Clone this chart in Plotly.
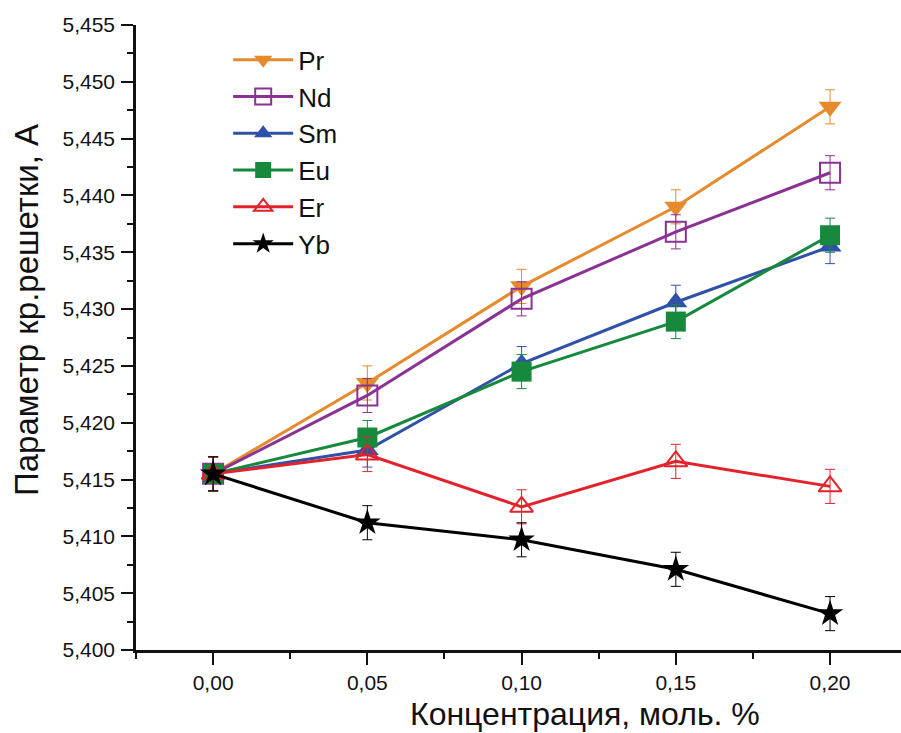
import plotly.graph_objects as go

x_vals = [0.00, 0.05, 0.10, 0.15, 0.20]
series_names = ["Pr", "Nd", "Sm", "Eu", "Er", "Yb"]
pr = [5.4155, 5.4235, 5.4320, 5.4390, 5.4478]
nd = [5.4155, 5.4224, 5.4309, 5.4368, 5.4420]
sm = [5.4155, 5.4176, 5.4252, 5.4306, 5.4355]
eu = [5.4155, 5.4187, 5.4245, 5.4289, 5.4365]
er = [5.4155, 5.4172, 5.4126, 5.4166, 5.4144]
yb = [5.4155, 5.4112, 5.4097, 5.4071, 5.4032]
err = [0.0015, 0.0015, 0.0015, 0.0015, 0.0015]

x_ticks = [0.00, 0.05, 0.10, 0.15, 0.20]
x_ticklabels = ["0,00", "0,05", "0,10", "0,15", "0,20"]
y_ticks = [5.400, 5.405, 5.410, 5.415, 5.420, 5.425, 5.430, 5.435, 5.440, 5.445, 5.450, 5.455]
y_ticklabels = ["5,400", "5,405", "5,410", "5,415", "5,420", "5,425", "5,430", "5,435", "5,440", "5,445", "5,450", "5,455"]
x_title = "Концентрация, моль. %"
y_title = "Параметр кр.решетки, А"

styles = [
    dict(color="#E68A2E", symbol="triangle-down", fill=True),
    dict(color="#8A3194", symbol="square-open", fill=False),
    dict(color="#3051A8", symbol="triangle-up", fill=True),
    dict(color="#17893D", symbol="square", fill=True),
    dict(color="#E4222B", symbol="triangle-up-open", fill=False),
    dict(color="#000000", symbol="star", fill=True),
]
data = [pr, nd, sm, eu, er, yb]

fig = go.Figure()
for name, ys, st in zip(series_names, data, styles):
    fig.add_trace(go.Scatter(
        x=x_vals, y=ys, name=name, mode="lines+markers",
        line=dict(color=st["color"], width=3),
        marker=dict(symbol=st["symbol"], size=20, color=st["color"],
                    line=dict(color=st["color"], width=2 if not st["fill"] else 0)),
        error_y=dict(type="data", array=err, visible=True, color=st["color"],
                     thickness=1, width=5),
    ))

fig.update_layout(
    width=901, height=733,
    margin=dict(l=136, r=0, t=25, b=83),
    paper_bgcolor="white", plot_bgcolor="white",
    font=dict(family="Liberation Sans, Arial, sans-serif", color="#111111"),
    showlegend=True,
    legend=dict(x=0.1205, y=0.982, xanchor="left", yanchor="top",
                font=dict(size=26, color="#111111"), itemwidth=60,
                bgcolor="rgba(0,0,0,0)", tracegroupgap=0),
    xaxis=dict(range=[-0.025, 0.223], tickvals=x_ticks, ticktext=x_ticklabels,
               ticks="outside", ticklen=12, tickwidth=2, tickcolor="#111111",
               minor=dict(dtick=0.025, tick0=0, ticks="outside", ticklen=6, tickwidth=2, tickcolor="#111111"),
               showline=True, linecolor="#111111", linewidth=2.5, showgrid=False, zeroline=False,
               tickfont=dict(size=21), automargin=False, ticklabelstandoff=0),
    yaxis=dict(range=[5.400, 5.455], tickvals=y_ticks, ticktext=y_ticklabels,
               ticks="outside", ticklen=12, tickwidth=2, tickcolor="#111111",
               minor=dict(dtick=0.0025, tick0=5.4, ticks="outside", ticklen=6, tickwidth=2, tickcolor="#111111"),
               showline=True, linecolor="#111111", linewidth=2.5, showgrid=False, zeroline=False,
               tickfont=dict(size=21), automargin=False, ticklabelstandoff=2),
    annotations=[
        dict(text=x_title, xref="paper", yref="paper", x=0.587, y=-0.1024,
             xanchor="center", yanchor="middle", showarrow=False,
             font=dict(size=32, color="#111111")),
        dict(text=y_title, xref="paper", yref="paper", x=-0.1438, y=0.544,
             xanchor="center", yanchor="middle", showarrow=False, textangle=-90,
             font=dict(size=33, color="#111111")),
    ],
)

fig.write_html("out.html", config={"displayModeBar": False},
               post_script="document.body.style.margin='0';document.body.style.overflow='hidden';")
